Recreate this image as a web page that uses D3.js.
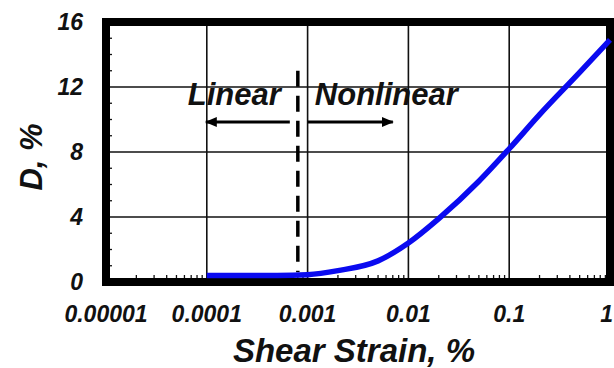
<!DOCTYPE html>
<html>
<head>
<meta charset="utf-8">
<script src="https://cdn.jsdelivr.net/npm/d3@7"></script>
<style>
  body { margin: 0; background: #fff; }
  text { font-family: "Liberation Sans", Arial, sans-serif; font-style: italic; font-weight: bold; fill: #111; }
</style>
</head>
<body>
<svg id="chart" width="614" height="368"></svg>
<script>
// damping ratio vs shear strain
var strain  = [0.0001, 0.0002, 0.0005, 0.001, 0.002, 0.005, 0.01, 0.02, 0.05, 0.1, 0.2, 0.5, 1];
var damping = [0.4, 0.4, 0.4, 0.45, 0.7, 1.3, 2.4, 3.9, 6.2, 8.2, 10.3, 12.9, 14.9];

var xTicks = [0.00001, 0.0001, 0.001, 0.01, 0.1, 1];
var xLabels = ["0.00001", "0.0001", "0.001", "0.01", "0.1", "1"];
var yTicks = [0, 4, 8, 12, 16];

// limit between linear and nonlinear behaviour
var threshold = 0.0008;
var thresholdRange = [0.6, 13];

var svg = d3.select("#chart");

var x = d3.scaleLog().domain([0.00001, 1]).range([106, 610]);
var y = d3.scaleLinear().domain([0, 16]).range([282, 22]);

// grid
svg.append("g").selectAll("line").data(xTicks).enter().append("line")
  .attr("x1", function(d){ return x(d); }).attr("x2", function(d){ return x(d); })
  .attr("y1", y(0)).attr("y2", y(16))
  .style("stroke", "#111").style("stroke-width", 1.6);

svg.append("g").selectAll("line").data(yTicks).enter().append("line")
  .attr("x1", x(0.00001)).attr("x2", x(1))
  .attr("y1", function(d){ return y(d); }).attr("y2", function(d){ return y(d); })
  .style("stroke", "#111").style("stroke-width", 1.6);

// inner minor ticks
var yMinor = d3.range(1, 16).filter(function(d){ return d % 4 != 0; });
svg.append("g").selectAll("line").data(yMinor).enter().append("line")
  .attr("x1", x(0.00001)).attr("x2", x(0.00001) + 6)
  .attr("y1", function(d){ return y(d); }).attr("y2", function(d){ return y(d); })
  .style("stroke", "#111").style("stroke-width", 1.3);

var xMinor = [];
xTicks.slice(0, -1).forEach(function(t){
  for (var k = 2; k <= 9; k++) xMinor.push(t * k);
});
svg.append("g").selectAll("line").data(xMinor).enter().append("line")
  .attr("x1", function(d){ return x(d); }).attr("x2", function(d){ return x(d); })
  .attr("y1", y(0)).attr("y2", y(0) - 7)
  .style("stroke", "#111").style("stroke-width", 1.3);

// thick frame
svg.append("rect")
  .attr("x", x(0.00001)).attr("y", y(16))
  .attr("width", x(1) - x(0.00001)).attr("height", y(0) - y(16))
  .style("fill", "none").style("stroke", "#000").style("stroke-width", 8);

// tick labels
svg.append("g").selectAll("text").data(yTicks).enter().append("text")
  .attr("x", 83).attr("y", function(d){ return y(d); })
  .attr("dy", "0.36em").attr("text-anchor", "end")
  .style("font-size", "23px")
  .text(function(d){ return d; });

svg.append("g").selectAll("text").data(xTicks).enter().append("text")
  .attr("x", function(d, i){ return i == xTicks.length - 1 ? 613 : x(d); })
  .attr("y", 322)
  .attr("text-anchor", function(d, i){ return i == xTicks.length - 1 ? "end" : "middle"; })
  .style("font-size", "23px")
  .text(function(d, i){ return xLabels[i]; });

// axis titles
svg.append("text")
  .attr("x", 354).attr("y", 362)
  .attr("text-anchor", "middle")
  .style("font-size", "33px")
  .text("Shear Strain, %");

svg.append("text")
  .attr("transform", "translate(42," + 157 + ") rotate(-90)")
  .attr("text-anchor", "middle")
  .style("font-size", "31px")
  .text("D, %");

// threshold line + labels
var tx = x(threshold);
svg.append("line")
  .attr("x1", tx).attr("x2", tx)
  .attr("y1", y(thresholdRange[1])).attr("y2", y(thresholdRange[0]))
  .style("stroke", "#000").style("stroke-width", 3.5)
  .style("stroke-dasharray", "16,9");

svg.append("text")
  .attr("x", tx - 17).attr("y", 105).attr("text-anchor", "end")
  .style("font-size", "31px")
  .text("Linear");
svg.append("text")
  .attr("x", tx + 17).attr("y", 105).attr("text-anchor", "start")
  .style("font-size", "31px")
  .text("Nonlinear");

svg.append("defs").append("marker")
  .attr("id", "head").attr("viewBox", "0 0 12 10")
  .attr("refX", 11).attr("refY", 5)
  .attr("markerWidth", 12).attr("markerHeight", 10)
  .attr("markerUnits", "userSpaceOnUse")
  .attr("orient", "auto")
  .append("path").attr("d", "M0,0 L12,5 L0,10 Z").style("fill", "#000");

svg.append("line")
  .attr("x1", tx - 8).attr("x2", x(0.0001) - 1)
  .attr("y1", 122).attr("y2", 122)
  .style("stroke", "#000").style("stroke-width", 3)
  .attr("marker-end", "url(#head)");
svg.append("line")
  .attr("x1", tx + 10).attr("x2", tx + 95)
  .attr("y1", 122).attr("y2", 122)
  .style("stroke", "#000").style("stroke-width", 3)
  .attr("marker-end", "url(#head)");

// damping curve
var line = d3.line()
  .x(function(d, i){ return x(strain[i]); })
  .y(function(d){ return y(d); })
  .curve(d3.curveMonotoneX);

svg.append("path")
  .datum(damping)
  .attr("d", line)
  .style("fill", "none")
  .style("stroke", "#0a0af0")
  .style("stroke-width", 5.5);
</script>
</body>
</html>
